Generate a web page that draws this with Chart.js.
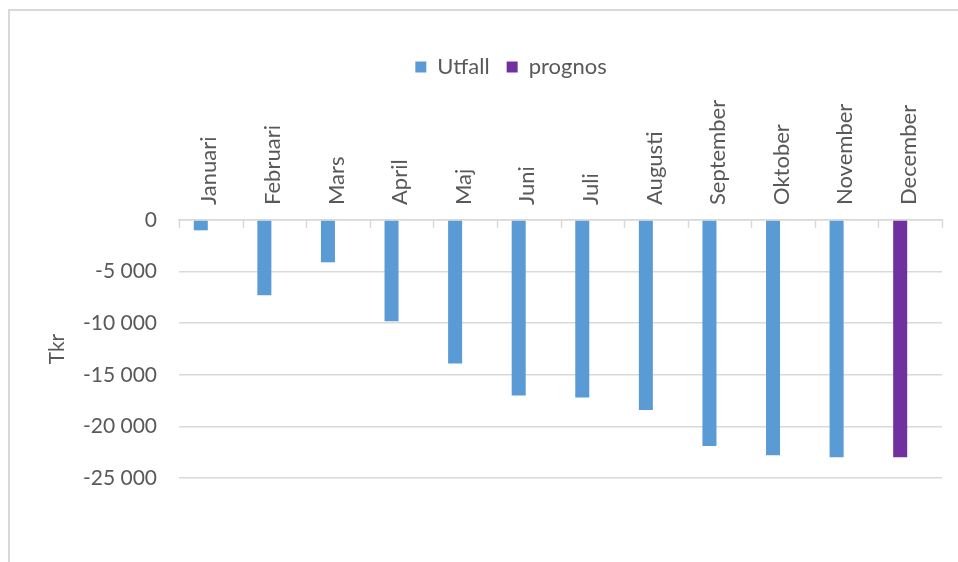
<!DOCTYPE html>
<html lang="sv">
<head>
<meta charset="utf-8">
<title>Utfall och prognos</title>
<script src="https://cdn.jsdelivr.net/npm/chart.js@4.4.1/dist/chart.umd.min.js"></script>
<style>
    html, body { margin: 0; padding: 0; background: #fff; }
    #wrap { position: relative; width: 958px; height: 562px; overflow: hidden; }
    #frame {
        position: absolute; left: 8px; top: 9px; right: -10px; bottom: -10px;
        border-top: 2px solid #d9d9d9; border-left: 2px solid #d9d9d9;
    }
    #chart-box { position: absolute; left: 0; top: 0; width: 958px; height: 562px; }
</style>
</head>
<body>
<div id="wrap">
    <div id="frame"></div>
    <div id="chart-box"><canvas id="result-chart"></canvas></div>
</div>
<script>
const months = ['Januari', 'Februari', 'Mars', 'April', 'Maj', 'Juni', 'Juli',
    'Augusti', 'September', 'Oktober', 'November', 'December'];
const utfall = [-1000, -7300, -4100, -9800, -13900, -17000, -17200, -18400,
    -21900, -22800, -23000, null];
const prognos = [null, null, null, null, null, null, null, null, null, null, null, -23000];
// empty series in its own stack, keeps the bars left of the category centre as in Excel
const tomSerie = [];
const yTicks = [0, -5000, -10000, -15000, -20000, -25000];

const textColor = '#595959';
const gridColor = '#d9d9d9';
const fontFamily = 'Lato, "Open Sans", sans-serif';

function formatTkr(value) {
    return String(value).replace(/\B(?=(\d{3})+(?!\d))/g, ' ');
}

// small tick marks hanging down from the top axis at each category border
const categoryTicks = {
    id: 'categoryTicks',
    afterDatasetsDraw(chart) {
        const x = chart.scales.x;
        const top = chart.chartArea.top;
        const ctx = chart.ctx;
        ctx.save();
        ctx.strokeStyle = gridColor;
        ctx.lineWidth = 1.5;
        ctx.beginPath();
        for (let i = 0; i <= months.length; i++) {
            const px = Math.round(x.getPixelForValue(i - 0.5)) + 0.5;
            ctx.moveTo(px, top);
            ctx.lineTo(px, top + 8);
        }
        ctx.stroke();
        ctx.restore();
    }
};

const ctx = document.getElementById('result-chart').getContext('2d');
const barChart = new Chart(ctx, {
    type: 'bar',
    data: {
        labels: months,
        datasets: [{
            label: 'Utfall',
            data: utfall,
            backgroundColor: '#5b9bd5',
            stack: 'a',
        }, {
            label: 'prognos',
            data: prognos,
            backgroundColor: '#7030a0',
            stack: 'a',
        }, {
            label: '',
            data: tomSerie,
            stack: 'b',
        }],
    },
    options: {
        responsive: true,
        maintainAspectRatio: false,
        animation: false,
        categoryPercentage: 0.63,
        barPercentage: 0.7,
        layout: {
            padding: { left: 80, right: 16, top: 39, bottom: 84 }
        },
        scales: {
            x: {
                position: 'top',
                grid: { display: false, drawTicks: false },
                border: { display: true, color: gridColor, width: 1.5 },
                ticks: {
                    color: textColor,
                    font: { family: fontFamily, size: 22 },
                    minRotation: 90,
                    maxRotation: 90,
                    autoSkip: false,
                    padding: 15,
                    labelOffset: 25,
                },
                afterFit: (scale) => {
                    const legend = scale.chart.legend;
                    scale.height = 220 - 39 - (legend ? legend.height : 0);
                },
            },
            y: {
                stacked: true,
                min: -25000,
                max: 0,
                afterBuildTicks: (scale) => {
                    scale.ticks = yTicks.map(v => ({ value: v }));
                },
                afterFit: (scale) => { scale.width = 99; },
                grid: { color: gridColor, lineWidth: 1.5, drawTicks: false },
                border: { display: false },
                ticks: {
                    color: textColor,
                    font: { family: fontFamily, size: 21 },
                    padding: 22,
                    callback: (value) => formatTkr(value),
                },
                title: {
                    display: true,
                    text: 'Tkr',
                    color: textColor,
                    font: { family: fontFamily, size: 21 },
                    padding: { top: -35, bottom: 0 },
                },
            },
        },
        plugins: {
            legend: {
                position: 'top',
                labels: {
                    color: textColor,
                    font: { family: fontFamily, size: 22 },
                    boxWidth: 11,
                    boxHeight: 11,
                    padding: 17,
                    filter: (item) => item.text !== '',
                },
            },
            tooltip: { enabled: false },
        },
    },
    plugins: [categoryTicks],
});
</script>
</body>
</html>
